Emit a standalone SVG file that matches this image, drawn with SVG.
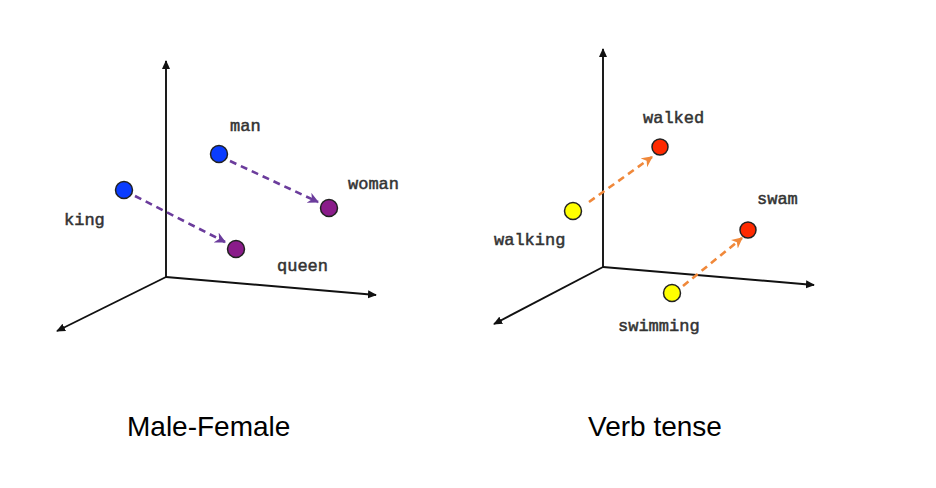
<svg xmlns="http://www.w3.org/2000/svg" width="936" height="488" viewBox="0 0 936 488">
<style>
.axis{stroke:#111;stroke-width:1.9;fill:none}
.lbl{font-family:"Liberation Mono","DejaVu Sans Mono",monospace;font-size:17px;fill:#333;stroke:#333;stroke-width:0.5}
.title{font-family:"Liberation Sans",Arial,sans-serif;font-size:28px;fill:#000}
.node{stroke:#222;stroke-width:1.5}
.purple{stroke:#6b3c9c;stroke-width:2.6;stroke-dasharray:7 5;fill:none}
.orange{stroke:#f0883a;stroke-width:2.6;stroke-dasharray:7 5;fill:none}
</style>
<defs>
<marker id="ax" viewBox="0 0 10 10" refX="9" refY="5" markerWidth="9" markerHeight="9" orient="auto" markerUnits="userSpaceOnUse"><path d="M0,0.5 L10,5 L0,9.5 z" fill="#111"/></marker>
<marker id="mp" viewBox="0 0 10 10" refX="9" refY="5" markerWidth="11" markerHeight="11" orient="auto" markerUnits="userSpaceOnUse"><path d="M0,0 L10,5 L0,10 L3,5 z" fill="#6b3c9c"/></marker>
<marker id="mo" viewBox="0 0 10 10" refX="9" refY="5" markerWidth="11" markerHeight="11" orient="auto" markerUnits="userSpaceOnUse"><path d="M0,0 L10,5 L0,10 L3,5 z" fill="#f0883a"/></marker>
</defs>
<rect width="936" height="488" fill="#fff"/>
<g id="axes-left">
<line class="axis" x1="166" y1="277" x2="166" y2="61" marker-end="url(#ax)"/>
<line class="axis" x1="166" y1="277" x2="376" y2="295" marker-end="url(#ax)"/>
<line class="axis" x1="166" y1="277" x2="57" y2="331" marker-end="url(#ax)"/>
</g>
<g id="axes-right">
<line class="axis" x1="603" y1="267" x2="603" y2="49" marker-end="url(#ax)"/>
<line class="axis" x1="603" y1="267" x2="814" y2="285" marker-end="url(#ax)"/>
<line class="axis" x1="603" y1="267" x2="494" y2="324" marker-end="url(#ax)"/>
</g>
<g id="connectors">
<line class="purple" x1="135" y1="196" x2="225" y2="242" marker-end="url(#mp)"/>
<line class="purple" x1="230" y1="161" x2="318" y2="202" marker-end="url(#mp)"/>
<line class="orange" x1="589" y1="202" x2="652" y2="157" marker-end="url(#mo)"/>
<line class="orange" x1="683" y1="286" x2="742" y2="238" marker-end="url(#mo)"/>
</g>
<g id="king"><circle class="node" cx="124" cy="190" r="8.5" fill="#0a3cff"/><text class="lbl" x="64" y="225">king</text></g>
<g id="man"><circle class="node" cx="219" cy="154" r="8.5" fill="#0a3cff"/><text class="lbl" x="230" y="131">man</text></g>
<g id="woman"><circle class="node" cx="329" cy="208" r="8.5" fill="#8a1c8a"/><text class="lbl" x="348" y="189">woman</text></g>
<g id="queen"><circle class="node" cx="236" cy="249" r="8.5" fill="#8a1c8a"/><text class="lbl" x="277" y="271">queen</text></g>
<g id="walking"><circle class="node" cx="573" cy="211" r="8.5" fill="#ffff00"/><text class="lbl" x="494" y="245">walking</text></g>
<g id="walked"><circle class="node" cx="660" cy="147" r="8" fill="#ff2a00"/><text class="lbl" x="643" y="123">walked</text></g>
<g id="swam"><circle class="node" cx="748" cy="230" r="8" fill="#ff2a00"/><text class="lbl" x="757" y="204">swam</text></g>
<g id="swimming"><circle class="node" cx="672" cy="293" r="8.5" fill="#ffff00"/><text class="lbl" x="618" y="331">swimming</text></g>
<g id="titles">
<text class="title" x="127" y="436">Male-Female</text>
<text class="title" x="588" y="436">Verb tense</text>
</g>
</svg>
